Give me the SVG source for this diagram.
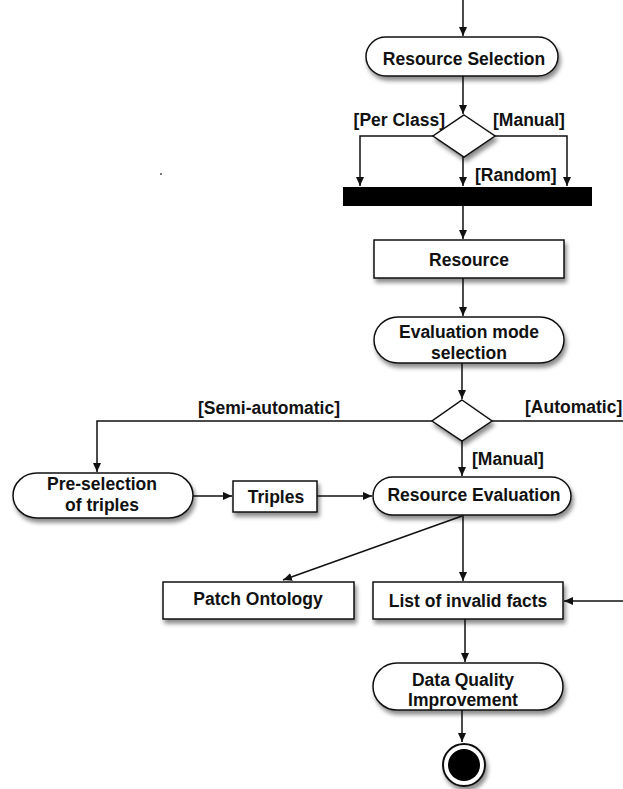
<svg xmlns="http://www.w3.org/2000/svg" width="623" height="789" viewBox="0 0 623 789">
<style>
.n{fill:#fff;stroke:#111;stroke-width:1.5;filter:url(#sh)}
.t{font-family:"Liberation Sans",Arial,sans-serif;font-weight:bold;font-size:17.5px;fill:#111;text-anchor:middle}
.l{font-family:"Liberation Sans",Arial,sans-serif;font-weight:bold;font-size:17.5px;fill:#111}
.c{fill:none;stroke:#111;stroke-width:1.5}
</style>
<defs>
<filter id="sh" x="-20%" y="-30%" width="140%" height="180%">
<feDropShadow dx="2" dy="4" stdDeviation="2" flood-color="#000" flood-opacity="0.45"/>
</filter>
<marker id="a" markerWidth="10" markerHeight="8" refX="9" refY="4" orient="auto" markerUnits="userSpaceOnUse">
<path d="M0,0 L9,4 L0,8 Z" fill="#111"/>
</marker>
</defs>
<g id="connectors">
<path class="c" d="M463,0 V36" marker-end="url(#a)"/>
<path class="c" d="M463,76 V114" marker-end="url(#a)"/>
<path class="c" d="M433,136 H360 V186" marker-end="url(#a)"/>
<path class="c" d="M463,157 V186" marker-end="url(#a)"/>
<path class="c" d="M495,136 H567 V186" marker-end="url(#a)"/>
<path class="c" d="M463,206 V239" marker-end="url(#a)"/>
<path class="c" d="M463,278 V316" marker-end="url(#a)"/>
<path class="c" d="M462,363 V399" marker-end="url(#a)"/>
<path class="c" d="M432,421 H97 V472" marker-end="url(#a)"/>
<path class="c" d="M492,421 H623"/>
<path class="c" d="M462,441 V476" marker-end="url(#a)"/>
<path class="c" d="M193,496 H232" marker-end="url(#a)"/>
<path class="c" d="M317,496 H372" marker-end="url(#a)"/>
<path class="c" d="M462,516 L283,580" marker-end="url(#a)"/>
<path class="c" d="M463,515 V581" marker-end="url(#a)"/>
<path class="c" d="M623,601 H564" marker-end="url(#a)"/>
<path class="c" d="M465,619 V662" marker-end="url(#a)"/>
<path class="c" d="M462,710 V742" marker-end="url(#a)"/>
</g>
<g id="labels">
<text class="l" x="445" y="126" text-anchor="end">[Per Class]</text>
<text class="l" x="493" y="126">[Manual]</text>
<text class="l" x="475" y="181">[Random]</text>
<text class="l" x="198" y="414">[Semi-automatic]</text>
<text class="l" x="525" y="413">[Automatic]</text>
<text class="l" x="472" y="465">[Manual]</text>
</g>
<g id="resource-selection">
<rect class="n" x="366" y="37" width="192" height="39" rx="20" ry="19.5"/>
<text class="t" x="464" y="65">Resource Selection</text>
</g>
<g id="decision1">
<polygon class="n" points="464,115 495,136 464,157 433,136"/>
</g>
<g id="fork-bar">
<rect x="343" y="187" width="249" height="19" fill="#000"/>
</g>
<g id="resource">
<rect class="n" x="374" y="240" width="190" height="38"/>
<text class="t" x="469" y="266">Resource</text>
</g>
<g id="evaluation-mode-selection">
<rect class="n" x="374" y="317" width="190" height="46" rx="24" ry="23"/>
<text class="t" x="469" y="338">Evaluation mode</text>
<text class="t" x="469" y="359">selection</text>
</g>
<g id="decision2">
<polygon class="n" points="462,400 492,421 462,441 432,421"/>
</g>
<g id="pre-selection">
<rect class="n" x="13" y="473" width="180" height="45" rx="24" ry="22.5"/>
<text class="t" x="102" y="490">Pre-selection</text>
<text class="t" x="102" y="511">of triples</text>
</g>
<g id="triples">
<rect class="n" x="233" y="481" width="84" height="31"/>
<text class="t" x="276" y="503">Triples</text>
</g>
<g id="resource-evaluation">
<rect class="n" x="373" y="477" width="198" height="38" rx="20" ry="19"/>
<text class="t" x="474" y="501">Resource Evaluation</text>
</g>
<g id="patch-ontology">
<rect class="n" x="163" y="582" width="191" height="37"/>
<text class="t" x="258" y="605">Patch Ontology</text>
</g>
<g id="list-invalid-facts">
<rect class="n" x="373" y="582" width="190" height="37"/>
<text class="t" x="468" y="607">List of invalid facts</text>
</g>
<g id="data-quality-improvement">
<rect class="n" x="373" y="663" width="190" height="47" rx="24" ry="23.5"/>
<text class="t" x="463" y="686">Data Quality</text>
<text class="t" x="463" y="706">Improvement</text>
</g>
<g id="final-node">
<circle cx="464" cy="765" r="21" fill="#fff" stroke="#111" stroke-width="2" filter="url(#sh)"/>
<circle cx="464" cy="765" r="16" fill="#000"/>
</g>
<rect x="160" y="173" width="2" height="2" fill="#777"/>
</svg>
